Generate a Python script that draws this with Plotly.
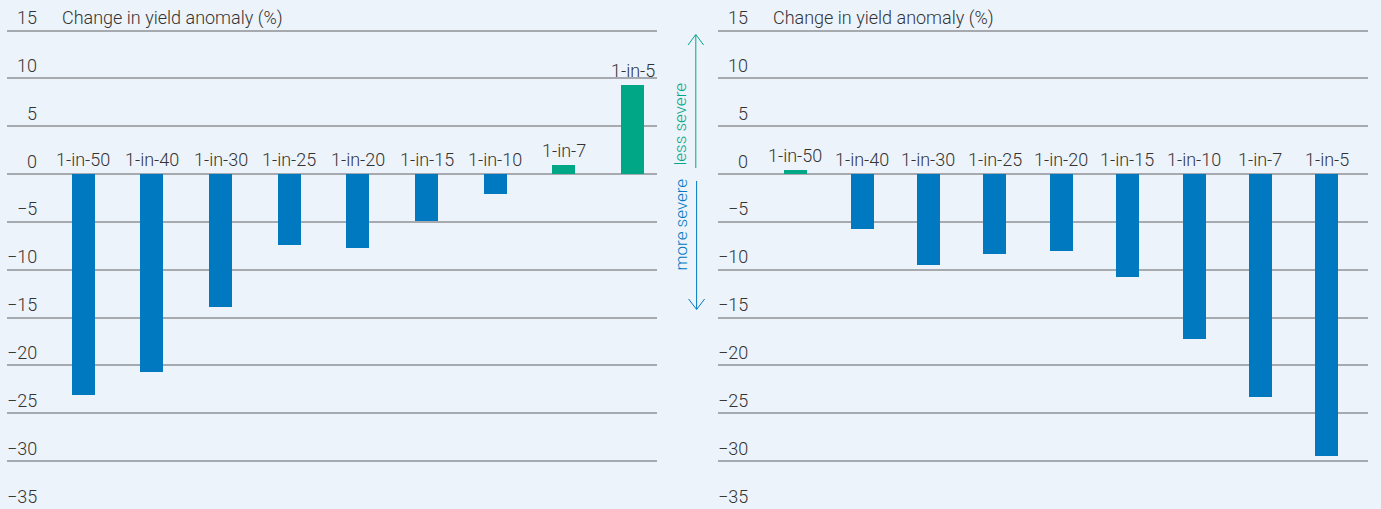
import plotly.graph_objects as go

categories = ["1-in-50", "1-in-40", "1-in-30", "1-in-25", "1-in-20",
              "1-in-15", "1-in-10", "1-in-7", "1-in-5"]
left_values = [-23.1, -20.7, -13.9, -7.4, -7.7, -4.9, -2.05, 0.94, 9.27]
right_values = [0.4, -5.7, -9.5, -8.3, -8.0, -10.8, -17.2, -23.3, -29.5]
y_ticks = [15, 10, 5, 0, -5, -10, -15, -20, -25, -30, -35]
axis_title = "Change in yield anomaly (%)"

BLUE = "#0079C1"
GREEN = "#00A787"
BG = "#EDF3FB"
GRID = "#A6A9AE"
TXT = "#333333"
FONT = "Roboto"

W, H = 1381, 509
left_dom = [7 / W, 656.7 / W]
right_dom = [717.7 / W, 1367.7 / W]

fig = go.Figure()
ann = []


def add_panel(values, xa, ya, width):
    colors = [GREEN if v > 0 else BLUE for v in values]
    fig.add_trace(go.Bar(x=categories, y=values, marker=dict(color=colors, line=dict(width=0)),
                         width=width, xaxis=xa, yaxis=ya, showlegend=False, hoverinfo="skip"))
    for c, v in zip(categories, values):
        ann.append(dict(x=c, y=max(v, 0), xref=xa, yref=ya, xanchor="center", yanchor="bottom",
                        yshift=2, text=c, showarrow=False,
                        font=dict(family=FONT, size=18, color=TXT, weight=300)))


add_panel(left_values, "x", "y", 0.335)
add_panel(right_values, "x2", "y2", 0.346)

yax = dict(range=[-35, 18.2], tickvals=y_ticks[:-1], showticklabels=False, showgrid=True,
           gridcolor=GRID, gridwidth=1.5, zeroline=False, showline=False, ticks="",
           domain=[0, 1], fixedrange=True)
xax = dict(showticklabels=False, showgrid=False, zeroline=False, showline=False, ticks="",
           type="category", fixedrange=True)

fig.update_layout(
    width=W, height=H,
    margin=dict(l=0, r=0, t=0, b=0),
    paper_bgcolor=BG, plot_bgcolor=BG,
    font=dict(family=FONT, color=TXT),
    bargap=0,
    xaxis=dict(xax, domain=left_dom, range=[-1.11, 8.35], anchor="y"),
    xaxis2=dict(xax, domain=right_dom, range=[-1.17, 8.62], anchor="y2"),
    yaxis=dict(yax, anchor="x"),
    yaxis2=dict(yax, anchor="x2"),
)

for xref, yref in (("x domain", "y"), ("x2 domain", "y2")):
    for t in y_ticks:
        label = str(t).replace("-", "\u2212")
        ann.append(dict(x=0.05, y=t, xref=xref, yref=yref, xanchor="right", yanchor="middle",
                        yshift=13, text=label, showarrow=False,
                        font=dict(family=FONT, size=18, color=TXT, weight=300)))
    ann.append(dict(x=0.082, y=15, xref=xref, yref=yref, xanchor="left", yanchor="middle",
                    yshift=13, text=axis_title, showarrow=False,
                    font=dict(family=FONT, size=18, color=TXT, weight=300)))

# severity labels between the panels
ann.append(dict(x=679.5 / W, y=1 - 124 / H, xref="paper", yref="paper", textangle=-90,
                text="less severe", showarrow=False, xanchor="center", yanchor="middle",
                font=dict(family=FONT, size=17, color=GREEN, weight=300)))
ann.append(dict(x=680.5 / W, y=1 - 225 / H, xref="paper", yref="paper", textangle=-90,
                text="more severe", showarrow=False, xanchor="center", yanchor="middle",
                font=dict(family=FONT, size=17, color=BLUE, weight=300)))


def P(px, py):
    return f"{px / W:.5f},{1 - py / H:.5f}"


shapes = [
    dict(type="path", xref="paper", yref="paper", line=dict(color=GREEN, width=1),
         path=f"M{P(695.8, 168)} L{P(695.8, 35)}"),
    dict(type="path", xref="paper", yref="paper", line=dict(color=GREEN, width=1),
         path=f"M{P(688, 45)} L{P(695.8, 34.5)} L{P(703.6, 45)}"),
    dict(type="path", xref="paper", yref="paper", line=dict(color=BLUE, width=1),
         path=f"M{P(696.6, 181)} L{P(696.6, 309)}"),
    dict(type="path", xref="paper", yref="paper", line=dict(color=BLUE, width=1),
         path=f"M{P(688.6, 299)} L{P(696.6, 309.5)} L{P(704.6, 299)}"),
]

fig.update_layout(annotations=ann, shapes=shapes)
fig.write_html("out.html")
